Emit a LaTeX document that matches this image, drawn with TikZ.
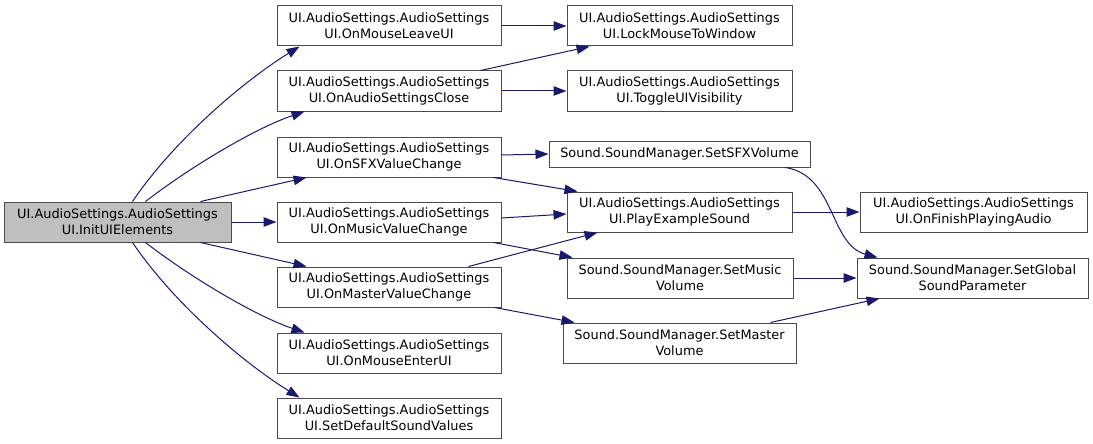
\documentclass[tikz,border=0pt]{standalone}
\usepackage{fontspec}
\setmainfont{DejaVu Sans}
\usetikzlibrary{arrows.meta}
\definecolor{edgecol}{HTML}{191970}
\definecolor{boxcol}{HTML}{4A4A4A}
\definecolor{rootfill}{HTML}{BFBFBF}
\begin{document}
\begin{tikzpicture}[x=1pt,y=-1pt,
  fn/.style={draw=boxcol, line width=1pt, fill=white, inner sep=0pt, align=center,
    minimum height=40pt, font=\fontsize{12.9}{15.7}\selectfont},
  call/.style={draw=edgecol, line width=1pt, -{Triangle[length=13pt,width=9.5pt]}}]
\useasboundingbox (0,0) rectangle (1093,444);
\fill[white] (0,0) rectangle (1093,444);

\node[fn, fill=rootfill, minimum width=227pt] (root) at (117.5,222) {UI.AudioSettings.AudioSettings\\UI.InitUIElements};

\node[fn, minimum width=224pt] (A) at (389,26) {UI.AudioSettings.AudioSettings\\UI.OnMouseLeaveUI};
\node[fn, minimum width=224pt] (B) at (389,91) {UI.AudioSettings.AudioSettings\\UI.OnAudioSettingsClose};
\node[fn, minimum width=224pt] (C) at (389,157) {UI.AudioSettings.AudioSettings\\UI.OnSFXValueChange};
\node[fn, minimum width=224pt] (D) at (389,222) {UI.AudioSettings.AudioSettings\\UI.OnMusicValueChange};
\node[fn, minimum width=224pt] (E) at (389,287) {UI.AudioSettings.AudioSettings\\UI.OnMasterValueChange};
\node[fn, minimum width=224pt] (F) at (389,353) {UI.AudioSettings.AudioSettings\\UI.OnMouseEnterUI};
\node[fn, minimum width=224pt] (G) at (389,418) {UI.AudioSettings.AudioSettings\\UI.SetDefaultSoundValues};

\node[fn, minimum width=225pt] (lock) at (679.5,26) {UI.AudioSettings.AudioSettings\\UI.LockMouseToWindow};
\node[fn, minimum width=225pt] (toggle) at (679.5,91) {UI.AudioSettings.AudioSettings\\UI.ToggleUIVisibility};
\node[fn, minimum width=261pt, minimum height=26pt] (setsfx) at (679.5,154) {Sound.SoundManager.SetSFXVolume};
\node[fn, minimum width=225pt] (play) at (679.5,212) {UI.AudioSettings.AudioSettings\\UI.PlayExampleSound};
\node[fn, minimum width=226pt] (setmusic) at (680,278) {Sound.SoundManager.SetMusic\\Volume};
\node[fn, minimum width=233pt] (setmaster) at (679.5,343) {Sound.SoundManager.SetMaster\\Volume};

\node[fn, minimum width=227pt] (finish) at (973.5,212) {UI.AudioSettings.AudioSettings\\UI.OnFinishPlayingAudio};
\node[fn, minimum width=231pt] (global) at (972.5,278) {Sound.SoundManager.SetGlobal\\SoundParameter};

% root calls
\draw[call] ([xshift=129pt]root.north west) .. controls +(42,-62) and +(-55,34) .. ([xshift=23pt]A.south west);
\draw[call] ([xshift=142pt]root.north west) .. controls +(44,-34) and +(-50,17) .. ([xshift=28pt]B.south west);
\draw[call] ([xshift=197pt]root.north west) -- ([xshift=30pt]C.south west);
\draw[call] (root.east) -- (D.west);
\draw[call] ([xshift=197pt]root.south west) -- ([xshift=30pt]E.north west);
\draw[call] ([xshift=142pt]root.south west) .. controls +(44,34) and +(-50,-17) .. ([xshift=28pt]F.north west);
\draw[call] ([xshift=129pt]root.south west) .. controls +(42,62) and +(-55,-34) .. ([xshift=23pt]G.north west);

% second column calls
\draw[call] (A.east) -- (lock.west);
\draw[call] ([xshift=-21pt]B.north east) -- ([xshift=23pt]lock.south west);
\draw[call] (B.east) -- (toggle.west);
\draw[call] ([yshift=2pt]C.east) -- (setsfx.west);
\draw[call] ([xshift=-8pt]C.south east) -- ([xshift=11pt]play.north west);
\draw[call] ([yshift=4pt]D.east) -- ([yshift=-2pt]play.west);
\draw[call] ([xshift=-8pt]D.south east) -- ([xshift=6pt]setmusic.north west);
\draw[call] ([xshift=-33pt]E.north east) -- ([xshift=31pt]play.south west);
\draw[call] ([xshift=-7pt]E.south east) -- ([xshift=12pt]setmaster.north west);

% third column calls
\draw[call] ([xshift=-25pt]setsfx.south east) .. controls +(50,8) and +(-48,-13) .. ([xshift=21pt]global.north west);
\draw[call] (play.east) -- (finish.west);
\draw[call] (setmusic.east) -- (global.west);
\draw[call] ([xshift=-26pt]setmaster.north east) -- ([xshift=23pt]global.south west);
\end{tikzpicture}
\end{document}
